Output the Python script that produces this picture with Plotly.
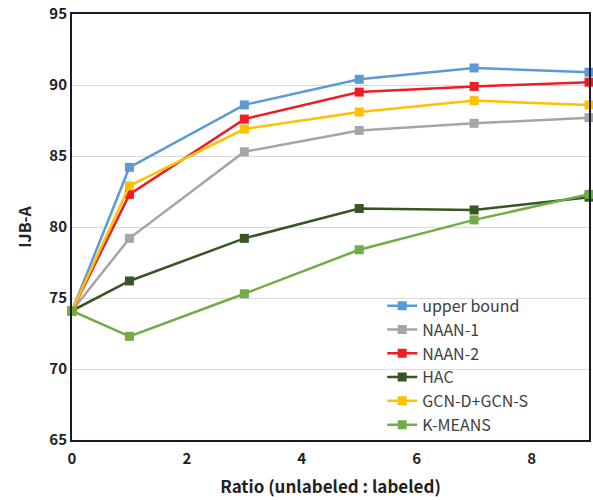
import plotly.graph_objects as go

x = [0, 1, 3, 5, 7, 9]
upper_bound = [74.1, 84.2, 88.6, 90.4, 91.2, 90.9]
naan1 = [74.1, 79.2, 85.3, 86.8, 87.3, 87.7]
naan2 = [74.1, 82.3, 87.6, 89.5, 89.9, 90.2]
hac = [74.1, 76.2, 79.2, 81.3, 81.2, 82.1]
gcn = [74.1, 82.9, 86.9, 88.1, 88.9, 88.6]
kmeans = [74.1, 72.3, 75.3, 78.4, 80.5, 82.3]

series = [
    ("upper bound", upper_bound, "#5B9BD5"),
    ("NAAN-1", naan1, "#A5A5A5"),
    ("NAAN-2", naan2, "#EE1C25"),
    ("HAC", hac, "#375623"),
    ("GCN-D+GCN-S", gcn, "#FFC000"),
    ("K-MEANS", kmeans, "#70AD47"),
]

font = "Noto Sans CJK SC"
fig = go.Figure()
for name, ys, col in series:
    fig.add_trace(go.Scatter(
        x=x, y=ys, name=name, mode="lines+markers",
        line=dict(color=col, width=2.5),
        marker=dict(symbol="square", size=9, color=col),
        cliponaxis=False,
    ))

fig.update_layout(
    width=593, height=500,
    margin=dict(l=72, r=2, t=12, b=60),
    plot_bgcolor="white", paper_bgcolor="white",
    font=dict(family=font, color="#222222"),
    showlegend=True,
    legend=dict(
        x=0.6, y=0.355, xanchor="left", yanchor="top",
        bgcolor="rgba(0,0,0,0)", font=dict(size=16, color="#404040", family=font),
        tracegroupgap=0, itemwidth=30,
    ),
    xaxis=dict(
        range=[0, 9], tickvals=[0, 2, 4, 6, 8], showgrid=False,
        showline=True, linecolor="#1a1a2a", linewidth=2, mirror=True,
        ticks="", ticklabelstandoff=4,
        tickfont=dict(size=15, family=font, color="#222222", weight="bold"),
        title=dict(text="<b>Ratio (unlabeled : labeled)</b>", font=dict(size=17, family=font), standoff=14),
        zeroline=False,
    ),
    yaxis=dict(
        range=[65, 95], dtick=5, showgrid=True, gridcolor="#D9D9D9", gridwidth=1,
        showline=True, linecolor="#1a1a2a", linewidth=2, mirror=True,
        ticks="", tickfont=dict(size=15, family=font, color="#222222", weight="bold"),
        title=dict(text="<b>IJB-A</b>", font=dict(size=16, family=font), standoff=14),
        zeroline=False,
    ),
)

fig.write_html("out.html")
